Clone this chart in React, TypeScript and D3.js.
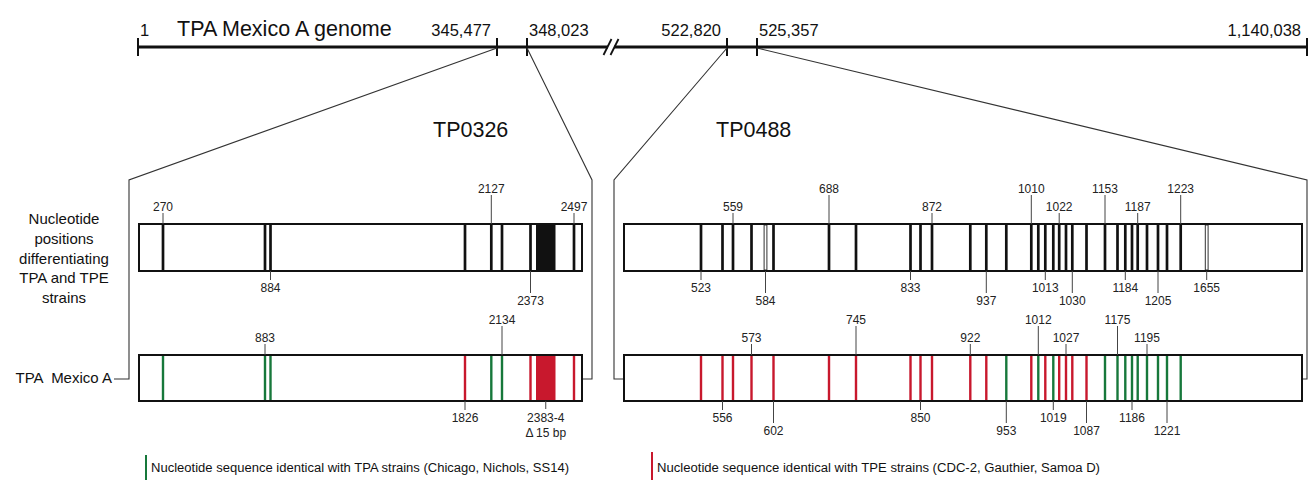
import React, { useEffect, useRef } from 'react'
import * as d3 from 'd3'

// overview of the genome (positions in bp)
const genomeTicks = [1, 345477, 348023, 522820, 525357, 1140038]
const genomeTickLabels = ['1', '345,477', '348,023', '522,820', '525,357', '1,140,038']

// TP0326 - nucleotide positions differentiating TPA and TPE strains
// A = identical with TPA strains, E = identical with TPE strains
const tp0326Sites = [270, 883, 884, 1826, 2127, 2134, 2373, 2497]
const tp0326Types = ['A', 'A', 'A', 'E', 'A', 'A', 'E', 'E']
const tp0326Deletion = [2383, 2397]
const tp0326TopAbove = [270, 2127, 2497]
const tp0326TopBelow = [884, 2373]
const tp0326BottomAbove = [883, 2134]
const tp0326BottomBelow = [1826]

// TP0488
const tp0488Sites = [523, 556, 559, 573, 602, 688, 745, 833, 850, 872, 922, 937, 953, 1010, 1012, 1013,
  1019, 1022, 1027, 1030, 1087, 1153, 1175, 1184, 1186, 1187, 1195, 1205, 1221, 1223]
const tp0488Types = ['E', 'E', 'E', 'E', 'E', 'E', 'E', 'E', 'E', 'E', 'E', 'E', 'A', 'E', 'A', 'E',
  'A', 'E', 'E', 'E', 'E', 'A', 'A', 'A', 'A', 'A', 'A', 'A', 'A', 'A']
const tp0488Indels = [584, 1655]
const tp0488TopAbove = [559, 688, 872, 1010, 1022, 1153, 1187, 1223]
const tp0488TopBelow = [523, 584, 833, 937, 1013, 1030, 1184, 1205, 1655]
const tp0488BottomAbove = [573, 745, 922, 1012, 1027, 1175, 1195]
const tp0488BottomBelow = [556, 602, 850, 953, 1019, 1087, 1186, 1221]

const legendLabels = [
  'Nucleotide sequence identical with TPA strains (Chicago, Nichols, SS14)',
  'Nucleotide sequence identical with TPE strains (CDC-2, Gauthier, Samoa D)',
]

// the figure is not drawn to scale: breakpoints of the schematic scales (px)
const genomeX = [138, 497, 527, 727, 757, 1307]
const tp0326Schematic = {
  domain: [0, 270, 883, 884, 1826, 2127, 2134, 2373, 2383, 2397, 2497, 2547],
  range: [0, 24, 126, 131.5, 326, 352.3, 363, 391.5, 397, 416.5, 435, 443],
}
const tp0488Schematic = {
  domain: [0, 523, 556, 559, 573, 584, 602, 688, 745, 833, 850, 872, 922, 937, 953, 1010, 1012, 1013,
    1019, 1022, 1027, 1030, 1087, 1153, 1175, 1184, 1186, 1187, 1195, 1205, 1221, 1223, 1655, 2538],
  range: [0, 77, 98.5, 109, 127.5, 141.5, 149.5, 205, 232, 286.5, 296.5, 308, 346.3, 362.3, 382.3,
    407.3, 414.3, 421.3, 429.3, 435.2, 442, 448.3, 462.5, 481, 493.5, 501.3, 508, 513.7, 523, 534,
    543, 556.7, 582.7, 678],
}

const GREEN = '#17783b'
const RED = '#c8182d'
const FONT = '"Liberation Sans", Arial, Helvetica, sans-serif'
const lineY = 47
const topBox = { y: 224, h: 47 }
const botBox = { y: 355, h: 46 }

const genes = [
  {
    name: 'TP0326', x0: 139, x1: 582, titleX: 433, ticks: [1, 2], leftOut: true,
    sites: tp0326Sites, types: tp0326Types, indels: [], deletion: tp0326Deletion,
    topAbove: tp0326TopAbove, topBelow: tp0326TopBelow,
    botAbove: tp0326BottomAbove, botBelow: tp0326BottomBelow,
    schematic: tp0326Schematic,
  },
  {
    name: 'TP0488', x0: 624, x1: 1302, titleX: 716, ticks: [3, 4], leftOut: false,
    sites: tp0488Sites, types: tp0488Types, indels: tp0488Indels, deletion: null,
    topAbove: tp0488TopAbove, topBelow: tp0488TopBelow,
    botAbove: tp0488BottomAbove, botBelow: tp0488BottomBelow,
    schematic: tp0488Schematic,
  },
]

const App = () => {
  const ref = useRef(null)

  useEffect(() => {
    const svg = d3.select(ref.current)
    svg.selectAll('*').remove()
    svg.style('font-family', FONT)

    // genome line
    const gx = d3.scaleLinear().domain(genomeTicks).range(genomeX)
    const g0 = svg.append('g')
    g0.append('line')
      .attr('x1', gx(1)).attr('x2', gx(1140038))
      .attr('y1', lineY).attr('y2', lineY)
      .attr('stroke', '#111').attr('stroke-width', 3)
    g0.selectAll('line.tick')
      .data(genomeTicks)
      .enter().append('line')
      .attr('class', 'tick')
      .attr('x1', d => gx(d)).attr('x2', d => gx(d))
      .attr('y1', lineY - 9).attr('y2', lineY + 9)
      .attr('stroke', '#111').attr('stroke-width', 2)
    g0.selectAll('text.tick')
      .data(genomeTicks)
      .enter().append('text')
      .attr('class', 'tick')
      .attr('x', (d, i) => gx(d) + (i % 2 === 0 ? 2 : -6))
      .attr('y', 36)
      .attr('text-anchor', (d, i) => (i % 2 === 0 ? 'start' : 'end'))
      .attr('font-size', 16.5)
      .attr('fill', '#111')
      .text((d, i) => genomeTickLabels[i])
    g0.append('text')
      .attr('x', 177).attr('y', 36)
      .attr('font-size', 21.5)
      .attr('fill', '#111')
      .text('TPA Mexico A genome')

    // break in the line
    const bx = gx(348023) + 0.42 * (gx(522820) - gx(348023))
    g0.append('rect')
      .attr('x', bx - 3).attr('y', lineY - 3).attr('width', 6).attr('height', 6)
      .attr('fill', '#fff')
    ;[-3.5, 3.5].forEach((o) => {
      g0.append('line')
        .attr('x1', bx + o - 4).attr('y1', lineY + 8)
        .attr('x2', bx + o + 4).attr('y2', lineY - 8)
        .attr('stroke', '#111').attr('stroke-width', 1.8)
    })

    // row labels
    const rows = svg.append('g').attr('fill', '#111').attr('font-size', 15)
    ;['Nucleotide', 'positions', 'differentiating', 'TPA and TPE', 'strains'].forEach((t, i) => {
      rows.append('text')
        .attr('x', 64).attr('y', 224 + i * 19.8)
        .attr('text-anchor', 'middle')
        .text(t)
    })
    rows.append('text')
      .attr('x', 112).attr('y', 383)
      .attr('text-anchor', 'end')
      .attr('xml:space', 'preserve')
      .text('TPA  Mexico A')

    const midY = botBox.y + botBox.h / 2 + 1

    genes.forEach((gene) => {
      const x = d3.scaleLinear()
        .domain(gene.schematic.domain)
        .range(gene.schematic.range.map(r => gene.x0 + r))
      const g = svg.append('g')

      // zoom connectors
      const lx = gene.x0 - 10
      const rx = Math.min(gene.x1 + 10, 1307)
      const conn = d3.line()
      g.append('path')
        .attr('d', conn([[gx(genomeTicks[gene.ticks[0]]), lineY + 1], [lx, 180], [lx, midY],
          [gene.leftOut ? lx - 15 : gene.x0, midY]]))
        .attr('fill', 'none').attr('stroke', '#333').attr('stroke-width', 1.1)
      g.append('path')
        .attr('d', conn([[gx(genomeTicks[gene.ticks[1]]), lineY + 1], [rx, 180], [rx, midY],
          [gene.x1, midY]]))
        .attr('fill', 'none').attr('stroke', '#333').attr('stroke-width', 1.1)

      g.append('text')
        .attr('x', gene.titleX).attr('y', 137)
        .attr('font-size', 21.5)
        .attr('fill', '#111')
        .text(gene.name)

      const drawTrack = (box, colored, above, below) => {
        const top = box.y
        const bot = box.y + box.h
        g.append('rect')
          .attr('x', gene.x0).attr('y', top)
          .attr('width', gene.x1 - gene.x0).attr('height', box.h)
          .attr('fill', '#fff').attr('stroke', '#111').attr('stroke-width', 2)

        if (gene.deletion) {
          g.append('rect')
            .attr('x', x(gene.deletion[0])).attr('y', top)
            .attr('width', x(gene.deletion[1]) - x(gene.deletion[0]))
            .attr('height', box.h)
            .attr('fill', colored ? RED : '#111')
        }

        g.selectAll(null)
          .data(gene.sites)
          .enter().append('line')
          .attr('x1', d => x(d)).attr('x2', d => x(d))
          .attr('y1', top).attr('y2', bot)
          .attr('stroke', (d, i) => {
            if (!colored) return '#111'
            return gene.types[i] === 'A' ? GREEN : RED
          })
          .attr('stroke-width', colored ? 2.4 : 2.7)

        if (!colored) {
          g.selectAll(null)
            .data(gene.indels)
            .enter().append('rect')
            .attr('x', d => x(d) - 1.4).attr('y', top + 1)
            .attr('width', 2.8).attr('height', box.h - 2)
            .attr('fill', '#fff').attr('stroke', '#333').attr('stroke-width', 1)
        }

        // redraw the frame on top of the marks
        g.append('rect')
          .attr('x', gene.x0).attr('y', top)
          .attr('width', gene.x1 - gene.x0).attr('height', box.h)
          .attr('fill', 'none').attr('stroke', '#111').attr('stroke-width', 2)

        const label = (list, side) => {
          list.forEach((d, i) => {
            const tall = i % 2 === 1
            const y0 = side === 'above' ? top : bot
            const y1 = side === 'above' ? top - (tall ? 29 : 11) : bot + (tall ? 22 : 9)
            const ty = side === 'above' ? top - (tall ? 31 : 13) : bot + (tall ? 34 : 21)
            g.append('line')
              .attr('x1', x(d)).attr('x2', x(d))
              .attr('y1', y0).attr('y2', y1)
              .attr('stroke', '#444').attr('stroke-width', 1)
            g.append('text')
              .attr('x', x(d)).attr('y', ty)
              .attr('text-anchor', 'middle')
              .attr('font-size', 12)
              .attr('fill', '#222')
              .text(d)
          })
        }
        label(above, 'above')
        label(below, 'below')

        if (colored && gene.deletion) {
          const cx = (x(gene.deletion[0]) + x(gene.deletion[1])) / 2
          g.append('line')
            .attr('x1', cx).attr('x2', cx)
            .attr('y1', bot).attr('y2', bot + 8)
            .attr('stroke', '#444').attr('stroke-width', 1)
          g.append('text')
            .attr('x', cx).attr('y', bot + 21)
            .attr('text-anchor', 'middle').attr('font-size', 12).attr('fill', '#222')
            .text(`${gene.deletion[0]}-4`)
          g.append('text')
            .attr('x', cx).attr('y', bot + 36)
            .attr('text-anchor', 'middle').attr('font-size', 12).attr('fill', '#222')
            .text(`Δ ${gene.deletion[1] - gene.deletion[0] + 1} bp`)
        }
      }

      drawTrack(topBox, false, gene.topAbove, gene.topBelow)
      drawTrack(botBox, true, gene.botAbove, gene.botBelow)
    })

    // legend
    const legend = svg.append('g')
    ;[{ x: 145, c: GREEN, y: 455 }, { x: 651, c: RED, y: 452 }].forEach((l, i) => {
      legend.append('rect')
        .attr('x', l.x).attr('y', l.y).attr('width', 2).attr('height', 480 - l.y)
        .attr('fill', l.c)
      legend.append('text')
        .attr('x', l.x + 6).attr('y', 472)
        .attr('font-size', 12.5)
        .attr('fill', '#111')
        .attr('textLength', i === 0 ? 418 : 443)
        .attr('lengthAdjust', 'spacingAndGlyphs')
        .text(legendLabels[i])
    })
  }, [])

  return (
    <div>
      <style>{'body{margin:0}'}</style>
      <svg ref={ref} width={1309} height={481} style={{ display: 'block', background: '#fff' }} />
    </div>
  )
}

export default App
